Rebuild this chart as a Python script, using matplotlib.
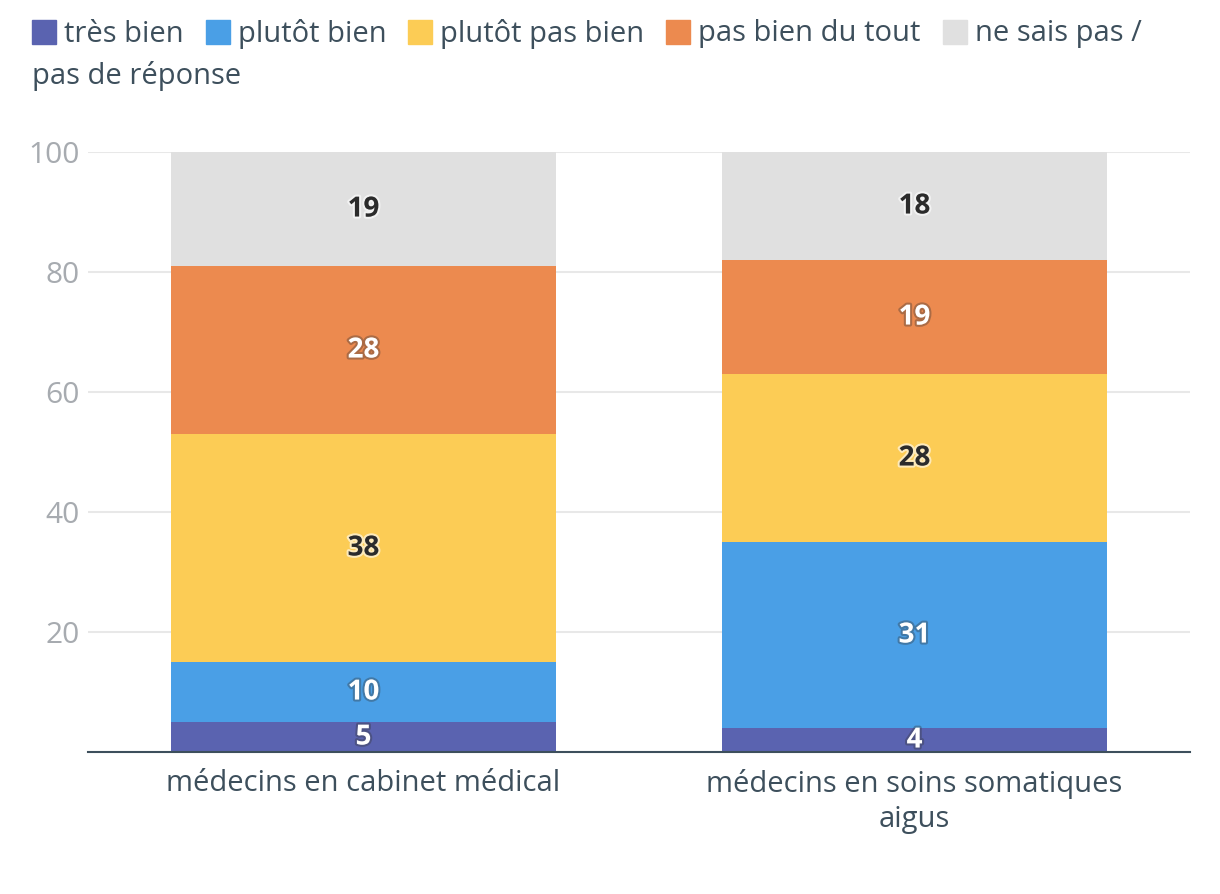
import numpy as np
import matplotlib.pyplot as plt
import matplotlib.patheffects as pe
from matplotlib.patches import Rectangle

# Data
categories = ['médecins en cabinet médical', 'médecins en soins somatiques\naigus']
series_names = ['très bien', 'plutôt bien', 'plutôt pas bien', 'pas bien du tout',
                'ne sais pas /\npas de réponse']
tres_bien = [5, 4]
plutot_bien = [10, 31]
plutot_pas_bien = [38, 28]
pas_bien_du_tout = [28, 19]
ne_sais_pas = [19, 18]
yticks = [20, 40, 60, 80, 100]

series = [tres_bien, plutot_bien, plutot_pas_bien, pas_bien_du_tout, ne_sais_pas]
colors = ['#5a63b0', '#4a9fe6', '#fccc55', '#ec8a4f', '#e0e0e0']
dark_label = [False, False, True, False, True]

plt.rcParams['font.family'] = ['Open Sans', 'DejaVu Sans']
text_col = '#3d4f5c'
fs = 21

fig = plt.figure(figsize=(12.2, 8.94), dpi=100)
ax = fig.add_axes([88/1220, 1 - 752/894, (1190-88)/1220, 600/894])

x = np.arange(len(categories))
bottom = np.zeros(len(categories))
for vals, col, dark in zip(series, colors, dark_label):
    vals = np.array(vals, dtype=float)
    ax.bar(x, vals, width=0.7, bottom=bottom, color=col, zorder=2)
    for xi, v, b in zip(x, vals, bottom):
        if dark:
            t = ax.text(xi, b + v / 2, f'{int(v)}', ha='center', va='center',
                        fontsize=20, fontweight='bold', color='#2b2b2b', zorder=3)
            t.set_path_effects([pe.withStroke(linewidth=3, foreground='white', alpha=0.6)])
        else:
            t = ax.text(xi, b + v / 2, f'{int(v)}', ha='center', va='center',
                        fontsize=20, fontweight='bold', color='white', zorder=3)
            t.set_path_effects([pe.withStroke(linewidth=3, foreground='#333333', alpha=0.35)])
    bottom += vals

ax.set_xlim(-0.5, 1.5)
ax.set_ylim(0, 100)
ax.set_yticks(yticks)
ax.set_xticks(x)
ax.set_xticklabels(categories, fontsize=fs, color=text_col, linespacing=1.28)
ax.tick_params(axis='y', length=0, labelsize=21.5, labelcolor='#a7abb0', pad=6)
ax.tick_params(axis='x', length=0, pad=12)
ax.grid(axis='y', color='#e8e8e8', linewidth=1.5, zorder=0)
for s in ['top', 'right', 'left']:
    ax.spines[s].set_visible(False)
ax.spines['bottom'].set_color(text_col)
ax.spines['bottom'].set_linewidth(1.5)
ax.spines['bottom'].set_zorder(4)

# Legend drawn by hand so the last entry wraps to a second line
fig.canvas.draw()
renderer = fig.canvas.get_renderer()
W, H = fig.bbox.width, fig.bbox.height
xpos = 32
y1 = 894 - 32
for name, col in zip(series_names, colors):
    fig.patches.append(Rectangle((xpos / W, (y1 - 12) / H), 24 / W, 24 / H,
                                 transform=fig.transFigure, color=col, figure=fig))
    first = name.split('\n')[0]
    t = fig.text((xpos + 32) / W, (y1 - 2) / H, first, fontsize=fs, color=text_col,
                 ha='left', va='center')
    w = t.get_window_extent(renderer).width
    xpos += 32 + w + 22
fig.text(32 / W, (894 - 76) / H, 'pas de réponse', fontsize=fs, color=text_col,
         ha='left', va='center')

fig.savefig('out.png', dpi=100)
